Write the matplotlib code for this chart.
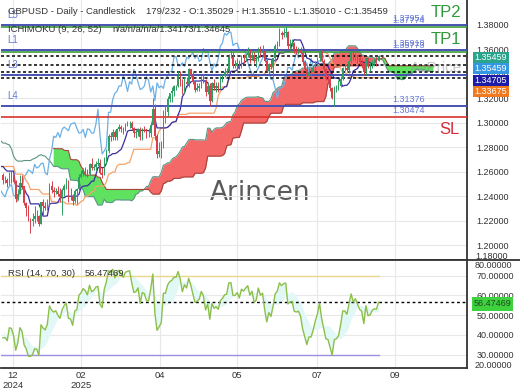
import numpy as np
import pandas as pd
import matplotlib
matplotlib.use("Agg")
import matplotlib.pyplot as plt
from matplotlib.patches import Rectangle
from matplotlib.lines import Line2D

plt.rcParams['font.family'] = ['Liberation Sans', 'DejaVu Sans']

# ---------------- data (GBPUSD daily, pips = price * 1e4) ----------------
# 53 earlier bars, used only to compute the indicators (not drawn)
hist_close = [13075,13065,13070,13055,13070,12995,12995,13050,12995,12980,12920,12970,12960,12975,13010,12970,12895,
              12915,12970,13035,12885,12985,12920,12865,12760,12700,12670,12620,12665,12680,12675,12590,12530,12570,12570,12665,12690,12735,
              12650,12670,12695,12745,12745,12765,12770,12750,12665,12615,12685,12715,12575,12500,12570]
hist_high = [13105,13100,13085,13085,13100,13075,13045,13070,13055,13010,12985,12990,12995,12995,13040,13045,12985,
             12990,12985,13045,13045,13000,13010,12925,12870,12770,12720,12700,12680,12710,12730,12685,12595,12625,12580,12685,12705,12750,
             12725,12705,12715,12765,12785,12775,12780,12810,12765,12670,12690,12730,12735,12595,12615]
hist_low = [13065,13010,13040,13050,13045,12975,12975,12990,12980,12950,12905,12915,12945,12945,12970,12945,12845,
            12880,12915,12950,12835,12870,12905,12855,12745,12695,12630,12595,12595,12615,12655,12575,12485,12515,12520,12555,12660,12680,
            12620,12615,12630,12690,12725,12720,12730,12735,12650,12605,12610,12660,12570,12475,12485]

# 179 visible bars (Dec 2024 - Sep 2025)
close_pips = [12530,12530,12505,12575,12570,12515,
    12380,12420,12510,12480,12345,12300,12205,12200,12210,12240,12235,12170,12350,12320,12305,12340,12480,12450,12435,12445,12415,12395,
    12450,12480,12495,12405,12400,12360,12445,12455,12560,12580,12615,12605,12585,12660,12630,12640,12665,12670,12590,12575,
    12700,12765,12890,12880,12920,12880,12945,12965,12950,12935,12985,12995,13000,12955,12915,12920,12945,12880,12950,12945,12915,
    12915,12985,13110,12890,12745,12770,12800,13085,13085,13190,13240,13255,13300,13300,13380,13335,13255,13335,13315,13435,13390,13330,
    13270,13280,13300,13375,13345,13250,13300,13180,13325,13285,13300,13280,13360,13380,13415,13420,13535,13540,13465,13465,13490,13460,
    13535,13525,13550,13570,13525,13555,13500,13515,13605,13570,13585,13500,13420,13480,13455,13525,13625,13650,13730,13715,13735,
    13740,13630,13645,13650,13595,13590,13595,13570,13495,13440,13380,13415,13415,13445,13490,13525,13590,13505,13435,13355,13350,13280,13200,
    13280,13285,13300,13360,13450,13450,13430,13500,13575,13530,13555,13525,13495,13485,13410,13525,13460,13465,13495,13505,13503,
    13545.9]
high_pips = [12590,12565,12545,12595,12605,12575,
    12535,12455,12575,12575,12485,12350,12330,12225,12265,12320,12290,12245,12355,12375,12350,12380,12505,12525,12475,12470,12485,12470,
    12470,12500,12550,12530,12470,12415,12455,12470,12580,12615,12630,12640,12625,12670,12710,12665,12690,12715,12700,12635,
    12720,12785,12905,12920,12945,12940,12960,12990,12980,12965,12995,13010,13015,13010,12965,12945,12955,12965,12960,12975,12945,
    12955,13000,13205,13150,12905,12845,12850,13100,13145,13215,13245,13290,13305,13310,13420,13425,13355,13370,13370,13445,13440,13410,
    13345,13325,13320,13380,13400,13360,13320,13320,13335,13355,13330,13335,13385,13400,13445,13450,13560,13590,13575,13515,13525,13515,
    13555,13560,13565,13615,13600,13575,13575,13545,13615,13630,13635,13600,13520,13490,13520,13530,13645,13665,13770,13750,13770,
    13790,13745,13680,13680,13655,13625,13620,13620,13585,13515,13465,13450,13445,13475,13505,13535,13590,13590,13520,13445,13390,13375,13295,
    13300,13310,13345,13385,13455,13470,13470,13510,13585,13595,13565,13555,13545,13525,13490,13530,13525,13495,13515,13525,13535,
    13551.0]
low_pips = [12500,12510,12475,12490,12510,12505,
    12350,12365,12420,12455,12325,12240,12195,12100,12160,12180,12195,12160,12170,12245,12290,12290,12330,12430,12395,12420,12405,12355,
    12250,12400,12460,12350,12365,12330,12345,12335,12440,12550,12565,12565,12560,12570,12615,12610,12605,12645,12580,12550,
    12575,12660,12750,12850,12860,12860,12860,12930,12925,12905,12930,12975,12960,12940,12885,12875,12895,12860,12860,12920,12875,
    12880,12880,12990,12860,12710,12720,12710,12790,13000,13055,13170,13170,13220,13270,13290,13300,13235,13240,13290,13290,13370,13315,
    13250,13260,13260,13280,13320,13220,13235,13140,13165,13265,13250,13250,13275,13335,13370,13380,13410,13530,13450,13445,13415,13440,
    13445,13490,13505,13535,13490,13510,13490,13455,13505,13535,13535,13495,13410,13400,13440,13370,13500,13600,13630,13685,13700,
    13700,13605,13590,13630,13565,13560,13560,13560,13480,13425,13375,13365,13365,13410,13425,13465,13505,13495,13415,13350,13330,13260,13190,
    13140,13250,13270,13290,13350,13420,13420,13405,13485,13515,13500,13490,13475,13445,13390,13390,13450,13420,13445,13460,13465,
    13501.0]
last_open = 1.35029

month_ticks = [4.7, 37.0, 74.4, 110.9, 148.8, 185.8]
month_labels = ["12\n2024", "02\n2025", "04", "05", "07", "09"]

blue_levels = [1.37954, 1.35918, 1.33890, 1.31376]
blue_names = ["L5", "L1", "L3", "L4"]
tp_levels = [1.37774, 1.35773]
tp_names = ["TP2", "TP1"]
sl_level = 1.30474
dotted_levels = [1.35459, 1.34705, 1.34173, 1.33675]
level_labels = [("1.37774", 1.37774), ("1.37954", 1.37954), ("1.35773", 1.35773),
                ("1.35918", 1.35918), ("1.31376", 1.31376), ("1.30474", 1.30474)]
price_ticks = [1.20, 1.22, 1.24, 1.26, 1.28, 1.30, 1.32, 1.34, 1.36, 1.38]
rsi_ticks = [30, 40, 50, 60, 70]
rsi_value = 56.47469
side_boxes = [("1.35459", "#2aa58c"), ("1.35459", "#3397e4"), ("1.34705", "#1c1ca6"), ("1.33675", "#f27a1e")]

# ---------------- derived series ----------------
n_hist = len(hist_close)
c = np.array(hist_close + close_pips, dtype=float) / 1e4
h = np.array(hist_high + high_pips, dtype=float) / 1e4
l = np.array(hist_low + low_pips, dtype=float) / 1e4
N = len(c)
idx = np.arange(N) - n_hist
o = np.r_[c[0], c[:-1]]
o[-1] = last_open

Hs, Ls = pd.Series(h), pd.Series(l)
tenkan = ((Hs.rolling(9).max() + Ls.rolling(9).min()) / 2).values
kijun = ((Hs.rolling(26).max() + Ls.rolling(26).min()) / 2).values
spanA = (tenkan + kijun) / 2
spanB = ((Hs.rolling(52).max() + Ls.rolling(52).min()) / 2).values
xs = idx + 26

d = np.diff(c)
gain = np.clip(d, 0, None)
loss = np.clip(-d, 0, None)
ag = np.full(N, np.nan); al = np.full(N, np.nan)
ag[14] = gain[:14].mean(); al[14] = loss[:14].mean()
for i in range(15, N):
    ag[i] = (ag[i - 1] * 13 + gain[i - 1]) / 14
    al[i] = (al[i - 1] * 13 + loss[i - 1]) / 14
rsi = 100 - 100 / (1 + ag / al)
rsi_ma = pd.Series(rsi).rolling(9).mean().values

# ---------------- figure ----------------
W, H = 520, 390
fig = plt.figure(figsize=(5.2, 3.9), dpi=100)
fig.patch.set_facecolor("white")

def rect(x0, y0, x1, y1):
    return [x0 / W, 1 - y1 / H, (x1 - x0) / W, (y1 - y0) / H]

def fx(x):
    return x / W

def fy(y):
    return 1 - y / H

ax = fig.add_axes(rect(0.5, 0, 467, 260))
axr = fig.add_axes(rect(0.5, 260, 467, 368))
xlim = ((0.5 - 3) / 2.11, (467 - 3) / 2.11)

for a in (ax, axr):
    a.set_xlim(*xlim)
    a.set_xticks(month_ticks)
    a.grid(True, color="#e8e8e8", lw=0.8, zorder=0)
    a.set_axisbelow(True)
    a.yaxis.tick_right()
    a.tick_params(axis="both", length=0, labelsize=6.5, labelcolor="#333333")
    a.tick_params(axis="y", pad=7)
    for s in ("top", "left"):
        a.spines[s].set_visible(False)
    a.spines["right"].set_color("#333333"); a.spines["right"].set_linewidth(1.3)
    a.spines["bottom"].set_color("#333333"); a.spines["bottom"].set_linewidth(1.3)

ax.set_ylim(1.18792, 1.40016)
ax.set_yticks(price_ticks)
ax.set_yticklabels([f"{v:.5f}" for v in price_ticks])
ax.set_xticklabels([])

# cloud
valid = ~np.isnan(spanA) & ~np.isnan(spanB)
ax.fill_between(xs, spanA, spanB, where=valid & (spanA >= spanB), interpolate=True,
                color="#f46868", lw=0, zorder=1)
ax.fill_between(xs, spanA, spanB, where=valid & (spanA < spanB), interpolate=True,
                color="#5fe25f", lw=0, zorder=1)
ax.plot(xs, spanA, color="#5a9484", lw=0.8, zorder=1.5)
ax.plot(xs, spanB, color="#a8443e", lw=0.8, zorder=1.5)

# watermark
ax.text(260 / 467 * (xlim[1] - xlim[0]) + xlim[0], 1.30 - (193 - 122.7) / 1225, "Arincen",
        fontsize=19, color="#5a5a5a", ha="center", va="center", family="DejaVu Sans", zorder=0.5)

# horizontal levels
for v in dotted_levels:
    ax.axhline(v, color="black", lw=1.1, ls=(0, (2, 1.6)), zorder=2.5)
for v in tp_levels:
    ax.axhline(v, color="#3c9c3c", lw=1.2, zorder=2.6)
for v in blue_levels:
    ax.axhline(v, color="#4752b3", lw=1.4, zorder=2.7)
ax.axhline(sl_level, color="#d8342c", lw=1.2, zorder=2.7)

# ichimoku lines
ax.plot(idx - 26, c, color="#6cb0e6", lw=0.9, zorder=2)
ax.plot(idx, kijun, color="#f4a46a", lw=0.9, zorder=2)
ax.plot(idx, tenkan, color="#3a2ea0", lw=0.9, zorder=2)

# candles
vis = idx >= 0
up = c >= o
cols = np.where(up, "#2f9e63", "#d8404c")
ax.vlines(idx[vis], l[vis], h[vis], colors=cols[vis], lw=0.7, zorder=3)
ax.bar(idx[vis], np.abs(c - o)[vis], bottom=np.minimum(o, c)[vis], width=0.7,
       color=cols[vis], lw=0, zorder=3)

# texts in main panel
blue_txt = "#6678d6"
for name, v in zip(blue_names, blue_levels):
    ypix = 122.7 - (v - 1.30) * 1225
    fig.text(fx(7), fy(ypix - 10), name, fontsize=7, color=blue_txt, va="center", ha="left")
for t, v in level_labels:
    ypix = 122.7 - (v - 1.30) * 1225
    fig.text(fx(392), fy(ypix - 6.5), t, fontsize=6.5, color=blue_txt, va="center", ha="left")
fig.text(fx(461), fy(12.5), "TP2", fontsize=12, color="#2e9a3a", ha="right", va="center")
fig.text(fx(461), fy(40), "TP1", fontsize=12, color="#2e9a3a", ha="right", va="center")
fig.text(fx(460), fy(129.5), "SL", fontsize=12, color="#d42a3a", ha="right", va="center")
fig.text(fx(462), fy(68), "AvPrice", fontsize=11, color="#888888", alpha=0.45, ha="right", va="center")

fig.text(fx(8), fy(12), "GBPUSD - Daily - Candlestick", fontsize=6.8, color="#333333", va="center")
fig.text(fx(146), fy(12), "179/232 - O:1.35029 - H:1.35510 - L:1.35010 - C:1.35459",
         fontsize=6.8, color="#333333", va="center")
fig.text(fx(8), fy(29), "ICHIMOKU (9, 26, 52)", fontsize=6.8, color="#333333", va="center")
fig.text(fx(112), fy(29), "n/a/n/a/n/a/1.34173/1.34645", fontsize=6.8, color="#333333", va="center")

# side price boxes
box_y = [51.7, 63.2, 74.7, 86.2]
for (t, colr), y0 in zip(side_boxes, box_y):
    fig.patches.append(Rectangle((fx(473), fy(y0 + 11)), 36 / W, 11 / H, transform=fig.transFigure,
                                 facecolor=colr, edgecolor="none", zorder=5))
    fig.text(fx(491), fy(y0 + 5.5), t, fontsize=6.5, color="white", ha="center", va="center", zorder=6)

# ---------------- RSI panel ----------------
axr.set_ylim(23.2, 77.85)
axr.set_yticks(rsi_ticks)
axr.set_yticklabels([f"{v:.5f}" for v in rsi_ticks])
axr.set_xticklabels(month_labels)
axr.tick_params(axis="x", pad=2, labelsize=6.8)
rv = vis & ~np.isnan(rsi_ma)
axr.fill_between(idx[rv], rsi[rv], rsi_ma[rv], color="#e2f8f6", lw=0, zorder=1)
axr.plot([xlim[0], idx[-1]], [70, 70], color="#ead98a", lw=1.0, zorder=2)
axr.plot([xlim[0], idx[-1]], [30, 30], color="#9d8fe2", lw=1.0, zorder=2)
axr.axhline(rsi_value, color="black", lw=1.0, ls=(0, (2, 2)), zorder=2.5)
axr.plot(idx[vis], rsi[vis], color="#8cbf4a", lw=1.0, zorder=3)
fig.text(fx(8), fy(273), "RSI (14, 70, 30)", fontsize=6.8, color="#333333", va="center")
fig.text(fx(85), fy(273), f"{rsi_value:.5f}", fontsize=6.8, color="#333333", va="center")
fig.text(fx(475), fy(256.5), "1.18000", fontsize=6.5, color="#333333", va="center")
fig.text(fx(475), fy(265), "80.00000", fontsize=6.5, color="#333333", va="center")
fig.text(fx(475), fy(365.5), "20.00000", fontsize=6.5, color="#333333", va="center")
fig.patches.append(Rectangle((fx(472), fy(310.7)), 41 / W, 14 / H, transform=fig.transFigure,
                             facecolor="#3fd23f", edgecolor="none", zorder=5))
fig.text(fx(492.5), fy(303.7), f"{rsi_value:.5f}", fontsize=6.5, color="#1f4a1f",
         ha="center", va="center", zorder=6)
fig.lines.append(Line2D([0, 1], [fy(260.3), fy(260.3)], transform=fig.transFigure,
                        color="#333333", lw=1.3))

fig.savefig("out.png", dpi=100, facecolor="white")
